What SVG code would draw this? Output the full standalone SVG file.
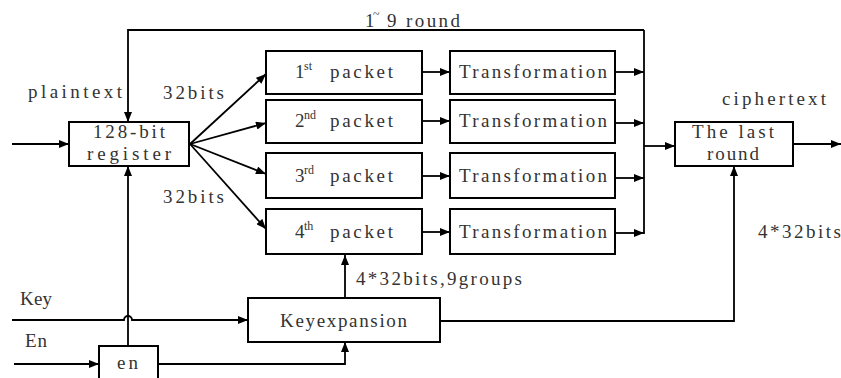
<svg xmlns="http://www.w3.org/2000/svg" width="841" height="378" viewBox="0 0 841 378">
<style>
.box{fill:#fff;stroke:#000;stroke-width:2}
.ln{fill:none;stroke:#000;stroke-width:1.8}
.ar{marker-end:url(#ah)}
text{font-family:"Liberation Serif","DejaVu Serif",serif;font-size:19px;fill:#333}
.sup{font-size:12px}
</style>
<defs>
<marker id="ah" viewBox="0 0 10 8" refX="10" refY="4" markerWidth="11" markerHeight="8" markerUnits="userSpaceOnUse" orient="auto">
<path d="M0,0 L10,4 L0,8 Z" fill="#000"/>
</marker>
</defs>
<g id="connectors">
<path class="ln ar" d="M12,144 H69"/>
<path class="ln ar" d="M644,30 H128 V122"/>
<path class="ln" d="M644,30 V234"/>
<path class="ln ar" d="M128,346 V166"/>
<path class="ln ar" d="M190,144 L266,74"/>
<path class="ln ar" d="M190,144 L266,123"/>
<path class="ln ar" d="M190,144 L266,174"/>
<path class="ln ar" d="M190,144 L266,229"/>
<path class="ln ar" d="M422,72 H450"/>
<path class="ln ar" d="M422,121 H450"/>
<path class="ln ar" d="M422,176 H450"/>
<path class="ln ar" d="M422,232 H450"/>
<path class="ln ar" d="M615,72 H644"/>
<path class="ln ar" d="M615,123 H644"/>
<path class="ln ar" d="M615,178 H644"/>
<path class="ln ar" d="M615,233 H644"/>
<path class="ln ar" d="M644,146 H675"/>
<path class="ln ar" d="M793,144 H841"/>
<path class="ln ar" d="M440,321 H734 V166"/>
<path class="ln ar" d="M345,298 V255"/>
<path class="ln ar" d="M12,320 H124 A4,4 0 0 1 132,320 H248"/>
<path class="ln ar" d="M14,364 H99"/>
<path class="ln ar" d="M158,364 H345 V342"/>
</g>
<g id="register"><rect class="box" x="69" y="122" width="120" height="44"/>
<text x="93" y="138" textLength="72" lengthAdjust="spacing">128-bit</text>
<text x="87" y="160" textLength="84" lengthAdjust="spacing">register</text></g>
<g id="packet1"><rect class="box" x="266" y="51" width="156" height="43"/>
<text x="295" y="78">1</text><text class="sup" x="304" y="70">st</text>
<text x="330" y="78" textLength="63" lengthAdjust="spacing">packet</text></g>
<g id="packet2"><rect class="box" x="266" y="100" width="156" height="43"/>
<text x="295" y="127">2</text><text class="sup" x="304" y="119">nd</text>
<text x="330" y="127" textLength="63" lengthAdjust="spacing">packet</text></g>
<g id="packet3"><rect class="box" x="266" y="153" width="156" height="45"/>
<text x="295" y="182">3</text><text class="sup" x="304" y="174">rd</text>
<text x="330" y="182" textLength="63" lengthAdjust="spacing">packet</text></g>
<g id="packet4"><rect class="box" x="266" y="209" width="156" height="45"/>
<text x="295" y="238">4</text><text class="sup" x="304" y="230">th</text>
<text x="330" y="238" textLength="63" lengthAdjust="spacing">packet</text></g>
<g id="trans1"><rect class="box" x="450" y="51" width="165" height="43"/><text x="459" y="78" textLength="148" lengthAdjust="spacing">Transformation</text></g>
<g id="trans2"><rect class="box" x="450" y="100" width="165" height="43"/><text x="459" y="127" textLength="148" lengthAdjust="spacing">Transformation</text></g>
<g id="trans3"><rect class="box" x="450" y="153" width="165" height="45"/><text x="459" y="182" textLength="148" lengthAdjust="spacing">Transformation</text></g>
<g id="trans4"><rect class="box" x="450" y="209" width="165" height="45"/><text x="459" y="238" textLength="148" lengthAdjust="spacing">Transformation</text></g>
<g id="lastround"><rect class="box" x="675" y="122" width="118" height="44"/>
<text x="692" y="138" textLength="82" lengthAdjust="spacing">The last</text>
<text x="707" y="160" textLength="52" lengthAdjust="spacing">round</text></g>
<g id="keyexpansion"><rect class="box" x="248" y="298" width="192" height="44"/><text x="280" y="327" textLength="127" lengthAdjust="spacing">Keyexpansion</text></g>
<g id="en"><rect class="box" x="99" y="346" width="59" height="40"/><text x="117" y="369" textLength="21" lengthAdjust="spacing">en</text></g>
<g id="labels">
<text x="365" y="27">1</text><text class="sup" x="373" y="18">~</text>
<text x="387" y="27" textLength="73" lengthAdjust="spacing">9 round</text>
<text x="28" y="98" textLength="94" lengthAdjust="spacing">plaintext</text>
<text x="163" y="99" textLength="61" lengthAdjust="spacing">32bits</text>
<text x="163" y="203" textLength="61" lengthAdjust="spacing">32bits</text>
<text x="722" y="105" textLength="104" lengthAdjust="spacing">ciphertext</text>
<text x="758" y="238" textLength="83" lengthAdjust="spacing">4*32bits</text>
<text x="356" y="285" textLength="166" lengthAdjust="spacing">4*32bits,9groups</text>
<text x="20" y="305" textLength="32" lengthAdjust="spacing">Key</text>
<text x="25" y="347" textLength="22" lengthAdjust="spacing">En</text>
</g>
</svg>
